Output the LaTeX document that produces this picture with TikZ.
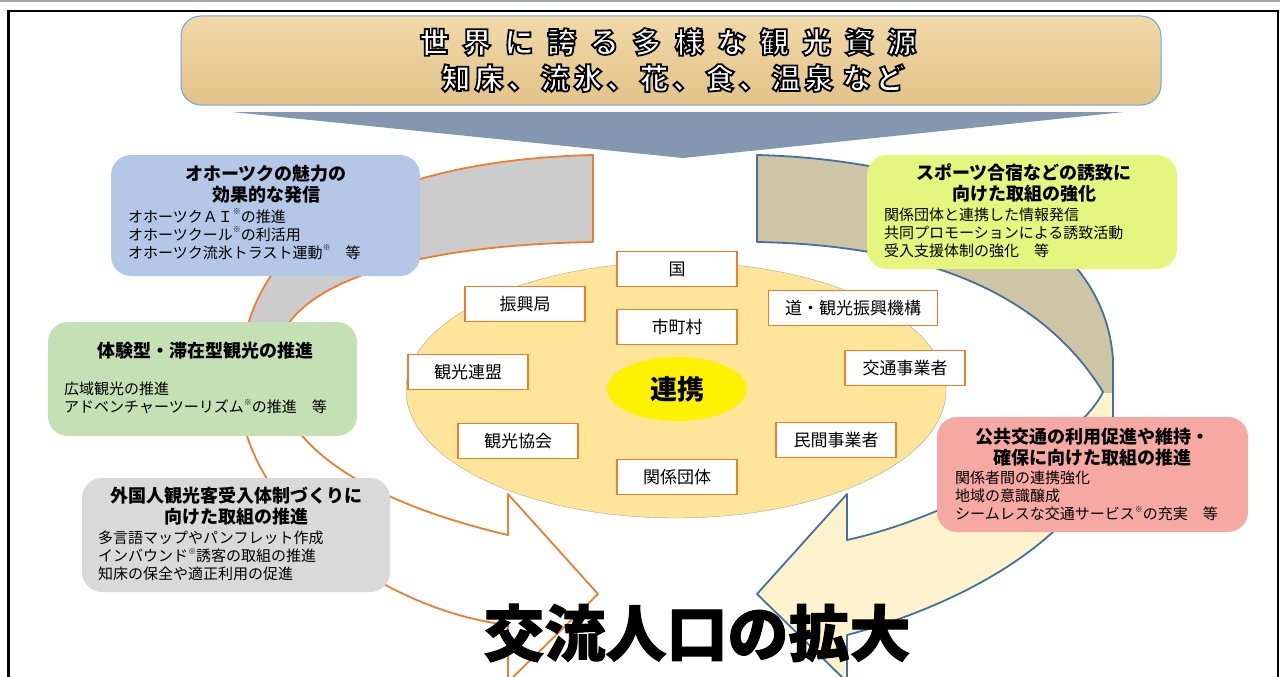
\documentclass[tikz,border=0pt]{standalone}
\usepackage{fontspec}
\setmainfont{Noto Sans CJK JP}
\usepackage{tikz}
\usetikzlibrary{shapes.geometric}
\definecolor{okblue}{RGB}{180,199,231}
\definecolor{okgreen}{RGB}{197,224,180}
\definecolor{okgray}{RGB}{217,217,217}
\definecolor{oklime}{RGB}{229,246,126}
\definecolor{okpink}{RGB}{246,168,162}
\definecolor{hubfill}{RGB}{255,229,153}
\definecolor{boxline}{RGB}{237,125,49}
\definecolor{loopline}{RGB}{65,113,156}
\definecolor{loopgray}{RGB}{204,204,204}
\definecolor{looptan}{RGB}{206,196,166}
\definecolor{loopcream}{RGB}{255,242,204}
\definecolor{funnel}{RGB}{132,151,176}
\definecolor{parchtop}{RGB}{241,217,168}
\definecolor{parchbot}{RGB}{226,194,137}
\definecolor{bannerline}{RGB}{110,165,220}
\newcommand{\kome}{\raisebox{.5em}{\fontsize{8}{8}\selectfont ※}}
\newcommand{\bsp}{\hspace{13.5pt}}
\newcommand{\nsp}{\hspace{4pt}}
% white glyphs with a black rim
\newcommand{\outlined}[1]{\special{pdf:literal direct 2 Tr 1.8 w 1 1 1 rg 0 0 0 RG}#1\special{pdf:literal direct 0 Tr 0 0 0 rg 0 0 0 RG}}
\newcommand{\leftloop}{(593,155) .. controls (400,160) and (250,220) .. (240,370)
  .. controls (226,500) and (380,610) .. (508,625) -- (508,682) -- (598,594) -- (508,494) -- (508,535)
  .. controls (380,505) and (270,450) .. (275,360) .. controls (280,280) and (420,245) .. (593,242) -- cycle}
\newcommand{\rightloop}{(757,155) .. controls (950,160) and (1105,230) .. (1113,360) -- (1113,420)
  .. controls (1110,520) and (980,600) .. (847,635) -- (847,682) -- (757,594) -- (847,494) -- (847,540)
  .. controls (960,515) and (1080,440) .. (1103,392) .. controls (1040,290) and (920,245) .. (757,242) -- cycle}

\begin{document}
\begin{tikzpicture}[x=1pt,y=-1pt,
    partner/.style={draw=boxline,line width=1.2pt,fill=white,minimum width=120pt,minimum height=35pt,inner sep=0pt,font=\fontsize{17}{17}\selectfont},
    card/.style={rounded corners=20pt,inner sep=0pt},
    headtxt/.style={align=center,inner sep=0pt,font=\bfseries\fontsize{18}{21}\selectfont},
    bodytxt/.style={anchor=west,align=left,inner sep=0pt,font=\fontsize{15}{18}\selectfont}]
	\useasboundingbox (0,0) rectangle (1280,677);
	%frame
	\draw[gray!70,line width=1.5pt] (0,1) -- (1280,1);
	\draw[line width=2.5pt] (8.5,677) -- (8.5,11) -- (1278,11) -- (1278,677);
	%banner
	\node[card,draw=bannerline,line width=1pt,top color=parchtop,bottom color=parchbot,minimum width=980pt,minimum height=89pt] (banner) at (671,60.5) {};
	\node[inner sep=0pt,font=\bfseries\fontsize{29}{29}\selectfont] (res1) at (668,42) {\outlined{世\bsp 界\bsp に\bsp 誇\bsp る\bsp 多\bsp 様\bsp な\bsp 観\bsp 光\bsp 資\bsp 源}};
	\node[inner sep=0pt,font=\bfseries\fontsize{29}{29}\selectfont] (res2) at (673,78) {\outlined{知\nsp 床\nsp 、\nsp 流\nsp 氷\nsp 、\nsp 花\nsp 、\nsp 食\nsp 、\nsp 温\nsp 泉\hspace{9pt}な\nsp ど}};
	\fill[funnel] (232,112) -- (1124,112) -- (683,158) -- cycle;
	%loops
	\fill[white] \leftloop;
	\begin{scope}
		\clip (0,0) rectangle (660,380);
		\fill[loopgray] \leftloop;
	\end{scope}
	\draw[boxline,line width=1.8pt,line join=round] \leftloop;
	\fill[loopcream] \rightloop;
	\begin{scope}
		\clip (700,0) rectangle (1200,392);
		\fill[looptan] \rightloop;
	\end{scope}
	\draw[loopline,line width=1.8pt,line join=round] \rightloop;
	%hub
	\node[ellipse,draw=gray!70,fill=hubfill,minimum width=540pt,minimum height=256pt] (hub) at (676,390) {};
	\node[partner] (kuni) at (677,269) {国};
	\node[partner] (shinko) at (525,304) {振興局};
	\node[partner] (shicho) at (677,327) {市町村};
	\node[partner,minimum width=169pt] (kiko) at (853,308) {道・観光振興機構};
	\node[partner] (renmei) at (468,372) {観光連盟};
	\node[partner] (kotsu) at (905,368) {交通事業者};
	\node[partner] (kyokai) at (518,441) {観光協会};
	\node[partner] (minkan) at (836,440) {民間事業者};
	\node[partner] (dantai) at (677,477) {関係団体};
	\node[ellipse,fill=yellow,minimum width=140pt,minimum height=64pt,font=\bfseries\fontsize{27}{27}\selectfont] (renkei) at (677,389) {連携};
	%cards
	\node[card,fill=okblue,minimum width=309pt,minimum height=121pt] (miryoku) at (265.5,215.5) {};
	\node[headtxt] (miryokuh) at (266,184.5) {オホーツクの魅力の\\効果的な発信};
	\node[bodytxt] (miryokub) at (128,234) {オホーツクＡＩ\kome の推進\\オホーツクール\kome の利活用\\オホーツク流氷トラスト運動\kome　等};
	\node[card,fill=okgreen,minimum width=309pt,minimum height=114pt] (taiken) at (202.5,379) {};
	\node[headtxt] (taikenh) at (205,351) {体験型・滞在型観光の推進};
	\node[bodytxt] (taikenb) at (64,398) {広域観光の推進\\アドベンチャーツーリズム\kome の推進　等};
	\node[card,fill=okgray,minimum width=308pt,minimum height=114pt] (gaikoku) at (236,535) {};
	\node[headtxt] (gaikokuh) at (236,506.5) {外国人観光客受入体制づくりに\\向けた取組の推進};
	\node[bodytxt] (gaikokub) at (98,556) {多言語マップやパンフレット作成\\インバウンド\kome 誘客の取組の推進\\知床の保全や適正利用の促進};
	\node[card,fill=oklime,minimum width=310pt,minimum height=114pt] (sports) at (1022,212) {};
	\node[headtxt] (sportsh) at (1024,183.5) {スポーツ合宿などの誘致に\\向けた取組の強化};
	\node[bodytxt] (sportsb) at (884,233) {関係団体と連携した情報発信\\共同プロモーションによる誘致活動\\受入支援体制の強化　等};
	\node[card,fill=okpink,minimum width=311pt,minimum height=115pt] (kokyo) at (1092.5,474.5) {};
	\node[headtxt] (kokyoh) at (1092,447) {公共交通の利用促進や維持・\\確保に向けた取組の推進};
	\node[bodytxt] (kokyob) at (955,496) {関係者間の連携強化\\地域の意識醸成\\シームレスな交通サービス\kome の充実　等};
	%goal
	\node[inner sep=0pt,font=\bfseries\fontsize{61}{61}\selectfont\addfontfeature{FakeBold=1.5}] (goal) at (697,633) {交流人口の拡大};
\end{tikzpicture}
\end{document}
